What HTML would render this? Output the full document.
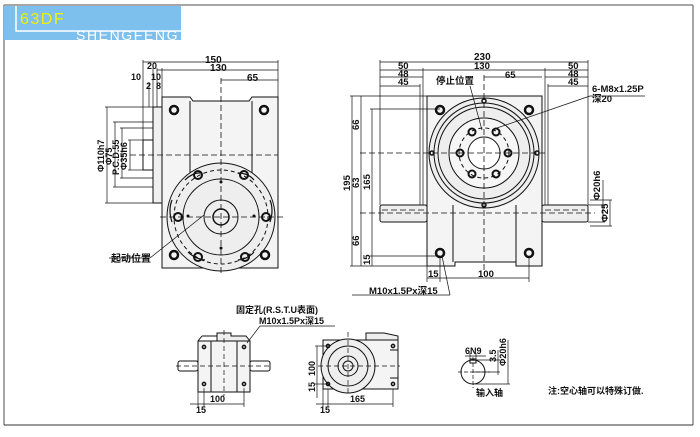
<!DOCTYPE html>
<html><head><meta charset="utf-8"><style>
html,body{margin:0;padding:0;background:#fff;}
svg{display:block;}
text{font-family:"Liberation Sans","Noto Sans CJK SC",sans-serif;font-weight:bold;fill:#111;}
</style></head><body>
<svg width="700" height="437" viewBox="0 0 700 437" xmlns="http://www.w3.org/2000/svg">
<rect x="0" y="0" width="700" height="437" fill="#fff"/>
<line x1="4" y1="5" x2="693" y2="5" stroke="#888" stroke-width="1.5"/>
<line x1="4" y1="5" x2="4" y2="425" stroke="#888" stroke-width="1.5"/>
<line x1="693" y1="5" x2="693" y2="425" stroke="#888" stroke-width="1.5"/>
<line x1="4" y1="425" x2="693" y2="425" stroke="#333" stroke-width="1"/>
<rect x="4" y="6" width="177" height="34" fill="#7dc0ee"/>
<polyline points="16,6 16,31 181,31" fill="none" stroke="#fff" stroke-width="1.5"/>
<text x="20" y="24" font-size="16" letter-spacing="1.5" style="fill:#f4f000;font-weight:normal">63DF</text>
<text x="76" y="40" font-size="14" letter-spacing="1.6" style="fill:#fff;font-weight:normal">SHENGFENG</text>

<g fill="none" stroke="#111" stroke-width="1">
<path d="M162,97 L190,97 L193,101 L249,101 L252,97 L278,97 L278,268 L162,268 Z" fill="#f4f4f4"/>
<line x1="190" y1="101" x2="190" y2="175"/><line x1="252" y1="101" x2="252" y2="175"/>
<rect x="153" y="107" width="9" height="96" fill="#f0f0f0"/>
<rect x="143" y="140" width="10" height="30"/>
<circle cx="221" cy="217" r="54" fill="#eee"/>
<circle cx="221" cy="217" r="38"/>
<circle cx="221" cy="217" r="17"/>
<circle cx="221" cy="217" r="8" stroke-width="1.5"/>
<circle cx="221" cy="217" r="47" stroke-dasharray="4,3"/>
<g stroke-width="2.5"><circle cx="174" cy="110" r="4"/><circle cx="264" cy="110" r="4"/><circle cx="174" cy="255" r="4"/><circle cx="265" cy="255" r="4"/></g>
<g stroke-width="2"><circle cx="198" cy="175" r="4"/><circle cx="244" cy="175" r="4"/><circle cx="178" cy="217" r="4"/><circle cx="266" cy="217" r="4"/><circle cx="198" cy="257" r="4"/><circle cx="245" cy="257" r="4"/></g>
<g stroke-width="1.2">
<path d="M185,180 q8,-8 17,-7"/><path d="M238,173 q10,0 16,7"/>
<path d="M172,200 q-4,10 0,22"/><path d="M270,200 q4,10 0,22"/>
<path d="M188,252 q7,7 17,8"/><path d="M238,260 q10,-1 16,-8"/>
</g>
<g fill="#111" stroke="none"><circle cx="221" cy="182" r="1.5"/><circle cx="221" cy="248" r="1.5"/><circle cx="188" cy="216" r="1.5"/><circle cx="254" cy="216" r="1.5"/></g>
<g stroke-dasharray="6,3" stroke-width="0.8"><line x1="221" y1="78" x2="221" y2="275"/><line x1="130" y1="155" x2="278" y2="155"/><line x1="160" y1="217" x2="285" y2="217"/></g>
<g stroke-width="0.7">
<line x1="143" y1="62" x2="278" y2="62"/><line x1="157" y1="70" x2="278" y2="70"/><line x1="221" y1="80" x2="278" y2="80"/>
<line x1="143" y1="60" x2="143" y2="140"/><line x1="278" y1="60" x2="278" y2="97"/>
<line x1="153" y1="68" x2="153" y2="107"/><line x1="157" y1="68" x2="157" y2="107"/><line x1="162" y1="68" x2="162" y2="97"/>
<line x1="149" y1="82" x2="149" y2="107"/>
<line x1="105" y1="107" x2="153" y2="107"/><line x1="105" y1="203" x2="153" y2="203"/>
<line x1="107" y1="107" x2="107" y2="203"/>
<line x1="113" y1="122" x2="153" y2="122"/><line x1="113" y1="187" x2="153" y2="187"/><line x1="115" y1="122" x2="115" y2="187"/>
<line x1="120" y1="128" x2="153" y2="128"/><line x1="120" y1="178" x2="153" y2="178"/><line x1="122" y1="128" x2="122" y2="178"/>
<line x1="128" y1="140" x2="143" y2="140"/><line x1="128" y1="170" x2="143" y2="170"/><line x1="130" y1="140" x2="130" y2="170"/>
<line x1="109" y1="258" x2="150" y2="258"/><line x1="150" y1="258" x2="204" y2="215"/>
</g>
</g>
<g font-size="9">
<text x="205" y="63" font-size="10">150</text>
<text x="210" y="71" font-size="10">130</text>
<text x="247" y="81" font-size="10">65</text>
<text x="147" y="69">20</text>
<text x="131" y="80">10</text><text x="151" y="80">10</text>
<text x="146" y="89">2</text><text x="156" y="89">8</text>
<text transform="translate(104,172) rotate(-90)">Φ110h7</text>
<text transform="translate(112,165) rotate(-90)">Φ75</text>
<text transform="translate(119,175) rotate(-90)">P.C.D.55</text>
<text transform="translate(127,170) rotate(-90)">Φ35h6</text>
<text x="111" y="262" font-size="10">起动位置</text>
</g>

<g fill="none" stroke="#111" stroke-width="1">
<path d="M427,96 L542,96 L542,266 L516,266 L516,262 L455,262 L455,266 L427,266 Z" fill="#f4f4f4"/>
<line x1="453" y1="205" x2="453" y2="262"/><line x1="516" y1="205" x2="516" y2="262"/>
<rect x="380" y="205" width="47" height="17" rx="2" fill="#eee"/>
<rect x="542" y="205" width="46" height="17" rx="2" fill="#eee"/>
<circle cx="484" cy="153" r="55" fill="#eee"/>
<circle cx="484" cy="153" r="50"/>
<circle cx="484" cy="153" r="46"/>
<circle cx="484" cy="153" r="35" fill="#f6f6f6"/>
<circle cx="484" cy="153" r="16" fill="#fff"/>
<circle cx="484" cy="153" r="25" stroke-dasharray="4,3"/>
<g stroke-width="2"><circle cx="472" cy="132" r="3.5"/><circle cx="496" cy="132" r="3.5"/><circle cx="460" cy="153" r="3.5"/><circle cx="508" cy="153" r="3.5"/><circle cx="472" cy="174" r="3.5"/><circle cx="496" cy="174" r="3.5"/></g>
<g stroke-width="2.5"><circle cx="440" cy="110" r="4"/><circle cx="529" cy="110" r="4"/><circle cx="440" cy="253" r="4"/><circle cx="529" cy="253" r="4"/></g>
<g stroke-width="1.5"><circle cx="484" cy="101" r="2"/><circle cx="484" cy="205" r="2"/><circle cx="432" cy="153" r="2"/><circle cx="537" cy="153" r="2"/></g>
<g stroke-dasharray="6,3" stroke-width="0.8"><line x1="484" y1="75" x2="484" y2="270"/><line x1="360" y1="153" x2="545" y2="153"/><line x1="360" y1="213" x2="595" y2="213"/><line x1="382" y1="210" x2="425" y2="210"/><line x1="545" y1="210" x2="585" y2="210"/></g>
<g stroke-width="0.7">
<line x1="380" y1="62" x2="588" y2="62"/>
<line x1="380" y1="70" x2="588" y2="70"/><line x1="380" y1="77" x2="423" y2="77"/><line x1="545" y1="77" x2="588" y2="77"/>
<line x1="380" y1="86" x2="420" y2="86"/><line x1="548" y1="86" x2="588" y2="86"/>
<line x1="484" y1="77" x2="542" y2="77"/>
<line x1="380" y1="60" x2="380" y2="205"/><line x1="588" y1="60" x2="588" y2="205"/>
<line x1="423" y1="68" x2="423" y2="205"/><line x1="545" y1="68" x2="545" y2="205"/>
<line x1="420" y1="84" x2="420" y2="205"/><line x1="548" y1="84" x2="548" y2="205"/>
<line x1="350" y1="96" x2="427" y2="96"/><line x1="350" y1="266" x2="427" y2="266"/>
<line x1="352" y1="96" x2="352" y2="266"/><line x1="361" y1="96" x2="361" y2="266"/>
<line x1="370" y1="109" x2="440" y2="109"/><line x1="370" y1="256" x2="440" y2="256"/><line x1="372" y1="109" x2="372" y2="266"/>
<line x1="588" y1="205" x2="605" y2="205"/><line x1="588" y1="222" x2="605" y2="222"/><line x1="603" y1="180" x2="603" y2="222"/>
<line x1="590" y1="200" x2="612" y2="200"/><line x1="590" y1="226" x2="612" y2="226"/><line x1="610" y1="200" x2="610" y2="226"/>
<line x1="427" y1="266" x2="427" y2="282"/><line x1="440" y1="258" x2="440" y2="282"/><line x1="529" y1="258" x2="529" y2="282"/>
<line x1="427" y1="278" x2="529" y2="278"/>
<line x1="352" y1="295" x2="450" y2="295"/><line x1="450" y1="295" x2="442" y2="256"/>
<line x1="497" y1="128" x2="590" y2="96"/><line x1="590" y1="96" x2="645" y2="96"/>
<line x1="470" y1="86" x2="482" y2="130"/>
</g>
</g>
<g font-size="9.5">
<text x="474" y="60" font-size="10">230</text>
<text x="398" y="69">50</text><text x="474" y="69">130</text><text x="568" y="69">50</text>
<text x="398" y="77">48</text><text x="568" y="77">48</text>
<text x="398" y="85">45</text><text x="505" y="78">65</text><text x="568" y="85">45</text>
<text x="436" y="84">停止位置</text>
<text x="592" y="92">6-M8x1.25P</text>
<text x="592" y="102">深20</text>
<text transform="translate(350,191) rotate(-90)">195</text>
<text transform="translate(359,130) rotate(-90)">66</text>
<text transform="translate(359,188) rotate(-90)">63</text>
<text transform="translate(359,246) rotate(-90)">66</text>
<text transform="translate(370,190) rotate(-90)">165</text>
<text transform="translate(370,265) rotate(-90)">15</text>
<text transform="translate(600,200) rotate(-90)">Φ20h6</text>
<text transform="translate(608,222) rotate(-90)">Φ25</text>
<text x="428" y="277">15</text><text x="478" y="277">100</text>
<text x="369" y="294">M10x1.5Px深15</text>
</g>

<g fill="none" stroke="#111" stroke-width="1">
<path d="M217,341 L217,333 L231,333 L231,336 L246,336 L250,341" fill="#eee"/><line x1="202" y1="336" x2="217" y2="336"/><line x1="198" y1="341" x2="202" y2="336"/>
<rect x="198" y="341" width="52" height="51" fill="#f4f4f4"/>
<line x1="211" y1="341" x2="211" y2="392"/><line x1="237" y1="341" x2="237" y2="392"/>
<rect x="178" y="361" width="20" height="10" rx="2"/><rect x="250" y="361" width="20" height="10" rx="2"/>
<g stroke-width="1.5"><circle cx="204" cy="347" r="1.6"/><circle cx="244" cy="347" r="1.6"/><circle cx="204" cy="384" r="1.6"/><circle cx="244" cy="384" r="1.6"/></g>
<g stroke-dasharray="5,3" stroke-width="0.7"><line x1="224" y1="330" x2="224" y2="396"/><line x1="176" y1="366" x2="272" y2="366"/></g>
<g stroke-width="0.7"><line x1="198" y1="392" x2="198" y2="407"/><line x1="204" y1="388" x2="204" y2="407"/><line x1="244" y1="388" x2="244" y2="407"/>
<line x1="190" y1="404" x2="244" y2="404"/><line x1="247" y1="343" x2="260" y2="326"/><line x1="260" y1="326" x2="335" y2="326"/></g>

<path d="M366,340 L366,333 L384,333 L398,336 L398,340" fill="#eee"/>
<rect x="323" y="340" width="75" height="49" fill="#f4f4f4"/>
<line x1="390" y1="350" x2="398" y2="350"/><line x1="390" y1="378" x2="398" y2="378"/>
<circle cx="348" cy="366" r="27" fill="#eee"/><circle cx="348" cy="366" r="20"/><circle cx="348" cy="366" r="10"/><circle cx="348" cy="366" r="5"/>
<g stroke-width="1.5"><circle cx="328" cy="346" r="1.6"/><circle cx="393" cy="346" r="1.6"/><circle cx="328" cy="384" r="1.6"/><circle cx="393" cy="384" r="1.6"/></g>
<g stroke-width="0.7"><line x1="315" y1="346" x2="330" y2="346"/><line x1="315" y1="384" x2="330" y2="384"/><line x1="317" y1="346" x2="317" y2="398"/>
<line x1="323" y1="389" x2="323" y2="407"/><line x1="328" y1="389" x2="328" y2="407"/><line x1="393" y1="389" x2="393" y2="407"/><line x1="316" y1="404" x2="393" y2="404"/></g>
<g stroke-dasharray="5,3" stroke-width="0.7"><line x1="348" y1="332" x2="348" y2="396"/><line x1="318" y1="366" x2="400" y2="366"/></g>

<circle cx="473" cy="372" r="12"/>
<rect x="470" y="359" width="6" height="4"/>
<g stroke-dasharray="4,2" stroke-width="0.7"><line x1="473" y1="357" x2="473" y2="388"/><line x1="458" y1="372" x2="490" y2="372"/></g>
<g stroke-width="0.7"><line x1="470" y1="353" x2="470" y2="360"/><line x1="476" y1="353" x2="476" y2="360"/><line x1="465" y1="356" x2="486" y2="356"/>
<line x1="476" y1="360" x2="500" y2="360"/><line x1="473" y1="372" x2="500" y2="372"/><line x1="498" y1="350" x2="498" y2="375"/>
<line x1="473" y1="384" x2="510" y2="384"/><line x1="508" y1="340" x2="508" y2="384"/></g>
</g>
<g font-size="9">
<text x="236" y="313">固定孔(R.S.T.U表面)</text>
<text x="259" y="324">M10x1.5Px深15</text>
<text x="210" y="402">100</text><text x="196" y="413">15</text>
<text transform="translate(315,376) rotate(-90)">100</text>
<text transform="translate(315,392) rotate(-90)">15</text>
<text x="350" y="402">165</text><text x="320" y="413">15</text>
<text x="465" y="354">6N9</text>
<text transform="translate(496,362) rotate(-90)">3.5</text>
<text transform="translate(506,366) rotate(-90)">Φ20h6</text>
<text x="476" y="396">输入轴</text>
<text x="548" y="394">注:空心轴可以特殊订做.</text>
</g>
</svg>
</body></html>
